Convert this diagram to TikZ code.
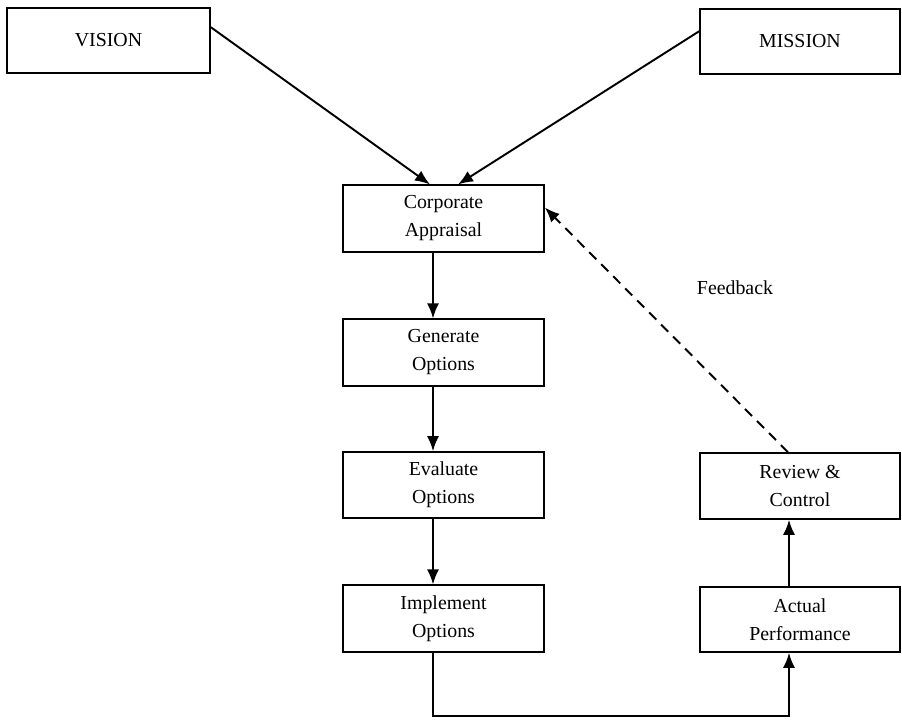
\documentclass[tikz,border=0pt]{standalone}
\usepackage{fontspec}
\setmainfont{Liberation Serif}
\usetikzlibrary{arrows.meta,calc}

\begin{document}
\begin{tikzpicture}[
	stage/.style={draw, line width=0.9pt, minimum width=4.02cm, minimum height=1.33cm,
		align=center, font=\fontsize{11.3}{15.9}\selectfont, inner sep=0pt},
	flow/.style={line width=1.1pt, -{Latex[length=0.3cm, width=0.24cm]}},
	back/.style={flow, dash pattern=on 0.2cm off 0.14cm}
	]
	\useasboundingbox (0, 0) rectangle (18.04, 14.4);

	\node [stage, minimum width=4.06cm, minimum height=1.3cm] (vision) at (2.17, 13.59) {VISION};
	\node [stage, minimum width=4.0cm, minimum height=1.3cm] (mission) at (16.0, 13.57) {MISSION};

	\node [stage] (appraisal) at (8.87, 10.03) {Corporate\\Appraisal};
	\node [stage] (generate) at (8.87, 7.35) {Generate\\Options};
	\node [stage, minimum height=1.32cm] (evaluate) at (8.87, 4.70) {Evaluate\\Options};
	\node [stage] (implement) at (8.87, 2.03) {Implement\\Options};

	\node [stage, minimum width=4.0cm, minimum height=1.32cm] (review) at (16.0, 4.68) {Review \&\\Control};
	\node [stage, minimum width=4.0cm, minimum height=1.3cm] (actual) at (16.0, 2.01) {Actual\\Performance};

	% spine of the left column and of the right column
	\coordinate (lspine) at (8.66, 0.08);
	\coordinate (rspine) at (15.78, 0.08);

	\draw [flow] ($(vision.north east)+(0,-0.4)$) -- ($(appraisal.north)+(-0.27,0)$);
	\draw [flow] ($(mission.north west)+(0,-0.46)$) -- ($(appraisal.north)+(0.29,0)$);

	\draw [flow] (lspine |- appraisal.south) -- (lspine |- generate.north);
	\draw [flow] (lspine |- generate.south) -- (lspine |- evaluate.north);
	\draw [flow] (lspine |- evaluate.south) -- (lspine |- implement.north);

	\draw [flow] (lspine |- implement.south) -- (lspine) -- (rspine) -- (rspine |- actual.south);
	\draw [flow] (rspine |- actual.north) -- (rspine |- review.south);

	\draw [back] ($(review.north)+(-0.24,0)$) -- ($(appraisal.north east)+(0,-0.46)$);
	\node [font=\fontsize{11.3}{15.9}\selectfont] (fb) at (14.7, 8.64) {Feedback};
\end{tikzpicture}
\end{document}
